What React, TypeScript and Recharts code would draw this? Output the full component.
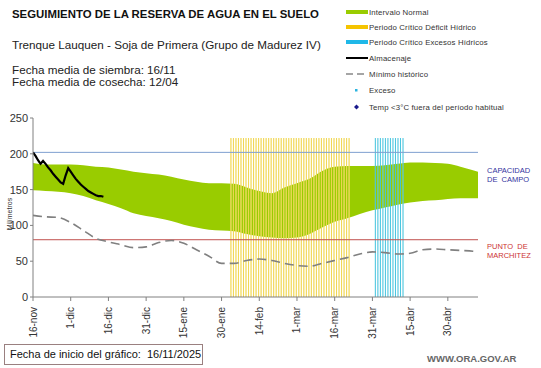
import React from "react";
import {
  Area,
  Bar,
  ComposedChart,
  Line,
  ReferenceLine,
  XAxis,
  YAxis,
} from "recharts";

// days counted from 16-nov
const BAND_DAYS = [
  0, 5, 10, 15, 20, 25, 30, 35, 40, 45, 50, 55, 60, 65, 70, 75, 80, 85, 90, 95,
  100, 105, 110, 115, 120, 125, 130, 135, 140, 145, 150, 155, 160, 165, 170,
  175, 177,
];
const BAND_UPPER = [
  187, 185, 185, 185, 184, 182, 181, 178, 175, 173, 171, 168, 164, 161, 159,
  159, 158, 153, 148, 145, 153, 159, 165, 176, 182, 183, 183, 183, 184, 186,
  188, 188, 187, 186, 182, 177, 175,
];
const BAND_LOWER = [
  149, 148, 147, 145, 141, 135, 130, 124, 117, 113, 110, 106, 101, 97, 94, 93,
  92, 88, 85, 83, 82, 83, 88, 97, 105, 110, 116, 121, 125, 129, 132, 134, 135,
  137, 138, 138, 138,
];
const MIN_HISTORIC = [
  114, 112, 111, 104, 93, 82, 77, 73, 69, 70, 76, 79, 75, 66, 57, 47, 47, 51,
  53, 51, 47, 44, 43, 47, 51, 55, 60, 63, 62, 60, 61, 66, 67, 66, 65, 64, 63,
];

const STORAGE_DAYS = [
  0, 1, 2, 3, 4, 5, 6, 7, 8, 9, 10, 11, 12, 13, 14, 15, 16, 17, 18, 19, 20, 21,
  22, 23, 24, 25, 26, 27, 28,
];
const STORAGE = [
  202, 197, 191, 186, 190, 186, 181, 177, 172, 168, 164, 160, 158, 170, 180,
  175, 170, 165, 161, 157, 154, 151, 148, 146, 144, 142, 141, 141, 140,
];

const DEFICIT_FIRST = 79;
const DEFICIT_LAST = 126;
const EXCESS_FIRST = 136;
const EXCESS_LAST = 147;
const PERIOD_TOP = 222;

const FIELD_CAPACITY = 202;
const WILTING_POINT = 80;

const TICK_DAYS = [0, 15, 30, 45, 60, 75, 90, 105, 120, 135, 150, 165];
const TICK_LABELS = [
  "16-nov", "1-dic", "16-dic", "31-dic", "15-ene", "30-ene",
  "14-feb", "1-mar", "16-mar", "31-mar", "15-abr", "30-abr",
];

const bandRows = BAND_DAYS.map((day, i) => ({
  day,
  band: [BAND_LOWER[i], BAND_UPPER[i]],
}));
const minRows = BAND_DAYS.map((day, i) => ({ day, min: MIN_HISTORIC[i] }));
const storageRows = STORAGE_DAYS.map((day, i) => ({ day, value: STORAGE[i] }));

const periodRows: { day: number; deficit: number | null; excess: number | null }[] = [];
for (let d = DEFICIT_FIRST; d <= EXCESS_LAST; d++) {
  periodRows.push({
    day: d,
    deficit: d <= DEFICIT_LAST ? PERIOD_TOP : null,
    excess: d >= EXCESS_FIRST ? PERIOD_TOP : null,
  });
}

const font = "'Liberation Sans', Arial, sans-serif";

const periodShape = (line: string, light: string, lightOpacity: number) => (props: any) => {
  const { x, y, width, height } = props;
  if (!height) return <g />;
  return (
    <g>
      <rect x={x} y={y} width={width} height={height} fill={light} fillOpacity={lightOpacity} />
      <rect x={x + width / 2 - 0.5} y={y} width={1} height={height} fill={line} fillOpacity={0.9} />
    </g>
  );
};

const DateTick = (props: any) => {
  const { x, y, payload } = props;
  const idx = TICK_DAYS.indexOf(payload.value);
  return (
    <text
      transform={`translate(${x + 3.5},${y + 4}) rotate(-90)`}
      textAnchor="end"
      fontSize={10}
      fontFamily={font}
      fill="#333"
    >
      {TICK_LABELS[idx]}
    </text>
  );
};

const legendRows = [
  { label: "Intervalo Normal", kind: "bar", color: "#99cc00", y: 12 },
  { label: "Periodo Crítico Déficit Hídrico", kind: "bar", color: "#f5c400", y: 27 },
  { label: "Periodo Crítico Excesos Hídricos", kind: "bar", color: "#1fb8e8", y: 42 },
  { label: "Almacenaje", kind: "line", color: "#000", y: 58 },
  { label: "Mínimo histórico", kind: "dash", color: "#888", y: 74 },
  { label: "Exceso", kind: "dot", color: "#2ab4e0", y: 90 },
  { label: "Temp <3°C fuera del período habitual", kind: "diamond", color: "#1a1a8c", y: 107 },
];

function LegendSwatch({ kind, color }: { kind: string; color: string }) {
  if (kind === "bar")
    return <svg width={22} height={6}><rect x={0} y={1} width={22} height={4} fill={color} /></svg>;
  if (kind === "line")
    return <svg width={22} height={6}><rect x={0} y={2} width={22} height={2} fill={color} /></svg>;
  if (kind === "dash")
    return (
      <svg width={22} height={6}>
        <line x1={0} y1={3} x2={22} y2={3} stroke={color} strokeWidth={1.5} strokeDasharray="7 4" />
      </svg>
    );
  if (kind === "dot")
    return <svg width={22} height={6}><rect x={9} y={2} width={2.5} height={2.5} fill={color} /></svg>;
  return (
    <svg width={22} height={6}>
      <path d="M10.5 0.5 L13 3 L10.5 5.5 L8 3 Z" fill={color} />
    </svg>
  );
}

export default function App() {
  return (
    <div
      style={{
        position: "absolute",
        left: 0,
        top: 0,
        width: 541,
        height: 368,
        background: "#fff",
        fontFamily: font,
        color: "#111",
        overflow: "hidden",
      }}
    >
      <div style={{ position: "absolute", left: 12, top: 8, fontSize: 11.4, fontWeight: "bold" }}>
        SEGUIMIENTO DE LA RESERVA DE AGUA EN EL SUELO
      </div>
      <div style={{ position: "absolute", left: 12, top: 38, fontSize: 11.7, color: "#222" }}>
        Trenque Lauquen - Soja de Primera (Grupo de Madurez IV)
      </div>
      <div style={{ position: "absolute", left: 12, top: 64, fontSize: 11.7, lineHeight: "12px", color: "#222" }}>
        Fecha media de siembra: 16/11
        <br />
        Fecha media de cosecha: 12/04
      </div>

      {legendRows.map((r) => (
        <div
          key={r.label}
          style={{
            position: "absolute",
            left: 346,
            top: r.y - 6,
            height: 12,
            display: "flex",
            alignItems: "center",
            fontSize: 7.8,
            letterSpacing: 0.15,
            color: "#333",
            whiteSpace: "nowrap",
          }}
        >
          <LegendSwatch kind={r.kind} color={r.color} />
          <span style={{ marginLeft: 1 }}>{r.label}</span>
        </div>
      ))}

      <ComposedChart
        width={541}
        height={368}
        data={periodRows}
        margin={{ top: 118, right: 63, bottom: 11, left: 8 }}
        style={{ position: "absolute", left: 0, top: 0 }}
      >
        <XAxis
          dataKey="day"
          type="number"
          domain={[0, 177]}
          ticks={TICK_DAYS}
          interval={0}
          tick={<DateTick />}
          height={60}
          stroke="#808080"
          tickSize={4}
          allowDataOverflow
        />
        <YAxis
          domain={[0, 250]}
          ticks={[0, 50, 100, 150, 200, 250]}
          width={25}
          stroke="#808080"
          tickSize={3}
          tick={{ fontSize: 11, fill: "#333", fontFamily: font }}
          allowDataOverflow
        />
        <Area
          data={bandRows}
          dataKey="band"
          type="monotone"
          stroke="none"
          fill="#99cc00"
          fillOpacity={1}
          isAnimationActive={false}
        />
        <ReferenceLine y={FIELD_CAPACITY} stroke="#7f9fd0" strokeWidth={1} />
        <ReferenceLine y={WILTING_POINT} stroke="#c0504d" strokeWidth={1} />
        <Bar
          dataKey="deficit"
          barSize={2.5}
          shape={periodShape("#eed34a", "#fbed9c", 0.75)}
          isAnimationActive={false}
        />
        <Bar
          dataKey="excess"
          barSize={2.5}
          shape={periodShape("#38c0dc", "#c8eef8", 0.5)}
          isAnimationActive={false}
        />
        <Line
          data={minRows}
          dataKey="min"
          type="monotone"
          stroke="#808080"
          strokeWidth={1.6}
          strokeDasharray="9 5"
          dot={false}
          isAnimationActive={false}
        />
        <Line
          data={storageRows}
          dataKey="value"
          type="linear"
          stroke="#000"
          strokeWidth={2.2}
          dot={false}
          isAnimationActive={false}
        />
      </ComposedChart>

      <div
        style={{
          position: "absolute",
          left: 9,
          top: 214,
          transform: "translate(-50%,-50%) rotate(-90deg)",
          fontSize: 7,
          color: "#333",
        }}
      >
        Milímetros
      </div>

      <div style={{ position: "absolute", left: 487, top: 166, fontSize: 7.5, lineHeight: "9px", color: "#3333a0" }}>
        CAPACIDAD
        <br />
        DE&nbsp; CAMPO
      </div>
      <div style={{ position: "absolute", left: 487, top: 242, fontSize: 7.5, lineHeight: "9px", color: "#cc3333" }}>
        PUNTO&nbsp; DE
        <br />
        MARCHITEZ
      </div>

      <div
        style={{
          position: "absolute",
          left: 4,
          top: 344,
          width: 199,
          height: 21,
          border: "1px solid #9a8080",
          boxSizing: "border-box",
          fontSize: 11,
          lineHeight: "19px",
          paddingLeft: 5,
          color: "#111",
          whiteSpace: "pre",
        }}
      >
        {"Fecha de inicio del gráfico:  16/11/2025"}
      </div>
      <div
        style={{
          position: "absolute",
          left: 427,
          top: 353,
          fontSize: 9.5,
          fontWeight: "bold",
          color: "#666",
        }}
      >
        WWW.ORA.GOV.AR
      </div>
    </div>
  );
}
